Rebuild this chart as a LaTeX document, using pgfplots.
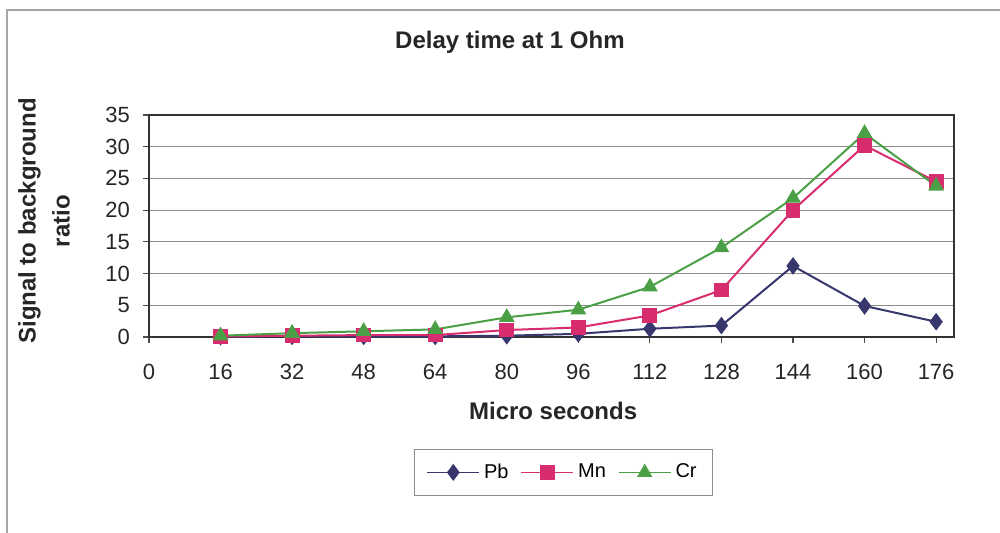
\documentclass[border=0pt]{standalone}
\usepackage{pgfplots}
\pgfplotsset{compat=1.18}
\usepackage{fontspec}
\setmainfont{Liberation Sans}
\definecolor{pbcol}{RGB}{55,55,110}
\definecolor{mncol}{RGB}{215,45,110}
\definecolor{crcol}{RGB}{75,160,70}
\begin{document}
\begin{tikzpicture}
\begin{axis}[
  name=ax,
  scale only axis,
  width=402.5pt, height=111pt,
  xmin=0, xmax=180, ymin=0, ymax=35,
  xtick={0,16,32,48,64,80,96,112,128,144,160,176},
  ytick={0,5,10,15,20,25,30,35},
  tick align=outside,
  major tick length=3pt,
  tick style={black!70, line width=0.6pt},
  xtick pos=bottom, ytick pos=left,
  ymajorgrids,
  grid style={black!45, line width=0.6pt},
  axis line style={black!80, line width=1pt},
  /pgf/number format/assume math mode=true,
  ticklabel style={font=\fontsize{11}{13}\selectfont, text=black!85},
  xticklabel style={yshift=-7pt},
  yticklabel style={xshift=-3pt},
  every axis title shift=0pt,
  title={Delay time at 1 Ohm},
  title style={font=\bfseries\fontsize{12}{14}\selectfont, text=black!85, at={(axis description cs:0.4484,1.329)}, anchor=center},
  xlabel={Micro seconds},
  xlabel style={font=\bfseries\fontsize{12}{14}\selectfont, text=black!85, at={(axis description cs:0.502,-0.333)}, anchor=center},
  ylabel={Signal to background\\ratio},
  ylabel style={font=\bfseries\fontsize{12}{17}\selectfont, text=black!85, align=center, at={(axis description cs:-0.1304,0.5225)}, anchor=center},
  legend columns=3,
  legend style={at={(axis description cs:0.515,-0.610)}, anchor=center, draw=black!45, font=\fontsize{10}{12}\selectfont, inner xsep=6pt, inner ysep=5pt,
    /tikz/every even column/.append style={column sep=4pt}},
  legend image code/.code={\draw[mark repeat=2,mark phase=2, line width=0.8pt] plot coordinates {(0pt,0pt) (13pt,0pt) (26pt,0pt)};},
  clip=false,
]
\addplot[pbcol, line width=1pt, mark=diamond*, mark size=3.6pt, mark options={fill=pbcol}] coordinates {
(16,0.05) (32,0.1) (48,0.1) (64,0.1) (80,0.2) (96,0.5) (112,1.3) (128,1.8) (144,11.2) (160,4.9) (176,2.4)};
\addlegendentry{Pb}
\addplot[mncol, line width=1pt, mark=square*, mark size=3.2pt, mark options={fill=mncol}] coordinates {
(16,0.1) (32,0.2) (48,0.3) (64,0.3) (80,1.1) (96,1.5) (112,3.4) (128,7.4) (144,20.0) (160,30.2) (176,24.5)};
\addlegendentry{Mn}
\addplot[crcol, line width=1pt, mark=triangle*, mark size=3.6pt, mark options={fill=crcol}] coordinates {
(16,0.2) (32,0.6) (48,0.9) (64,1.2) (80,3.1) (96,4.3) (112,7.9) (128,14.1) (144,21.9) (160,32.1) (176,23.8)};
\addlegendentry{Cr}
\end{axis}
\pgfresetboundingbox
\path[use as bounding box] ([shift={(-74.5pt,-98pt)}]ax.south west) rectangle ([shift={(23pt,57.5pt)}]ax.north east);
\draw[black!35, line width=0.8pt] ([shift={(-71pt,-98pt)}]ax.south west) -- ([shift={(-71pt,52.5pt)}]ax.south west |- ax.north west) -- ([shift={(23pt,52.5pt)}]ax.north east);
\end{tikzpicture}
\end{document}
